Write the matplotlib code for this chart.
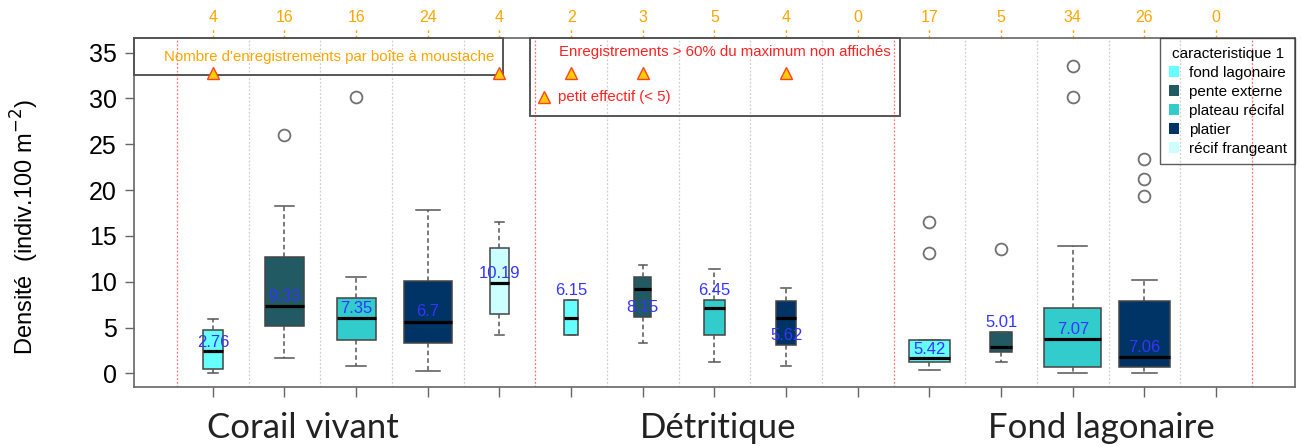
import matplotlib
matplotlib.use('Agg')
import matplotlib.pyplot as plt
import matplotlib.transforms as mtransforms
from matplotlib.patches import Patch, Rectangle
import numpy as np

plt.rcParams['font.family'] = ['Liberation Sans', 'DejaVu Sans']

# ---------------- data ----------------
groups = ['Corail vivant', 'Détritique', 'Fond lagonaire']
caracteristiques = ['fond lagonaire', 'pente externe', 'plateau récifal', 'platier', 'récif frangeant']
colors = ['#66FFFF', '#215A63', '#33CCCC', '#003366', '#CCFFFF']

counts = [4, 16, 16, 24, 4, 2, 3, 5, 4, 0, 17, 5, 34, 26, 0]
whislo = [0.0, 1.64, 0.76, 0.29, 4.15, 4.15, 3.28, 1.2, 0.76, None, 0.36, 1.2, 0.0, 0.0, None]
q1 = [0.47, 5.2, 3.67, 3.27, 6.47, 4.15, 6.15, 4.15, 3.13, None, 1.2, 2.36, 0.72, 0.72, None]
med = [2.40, 7.38, 6.07, 5.63, 9.89, 6.07, 9.17, 7.13, 6.07, None, 1.64, 2.84, 3.71, 1.82, None]
q3 = [4.73, 12.66, 8.22, 10.11, 13.71, 8.0, 10.48, 8.0, 7.93, None, 3.64, 4.54, 7.16, 7.93, None]
whishi = [5.93, 18.27, 10.55, 17.83, 16.48, 8.0, 11.79, 11.35, 9.28, None, 3.64, 4.54, 13.93, 10.19, None]
fliers = [[], [26.0], [30.13], [], [], [], [], [], [], [], [16.48, 13.1], [13.54],
          [33.55, 30.13], [23.36, 21.18, 19.36], []]
mean_labels = ['2.76', '9.33', '7.35', '6.7', '10.19', '6.15', '8.15', '6.45', '5.62', None,
               '5.42', '5.01', '7.07', '7.06', None]
mean_label_y = [3.4, 8.4, 7.1, 6.7, 10.9, 9.0, 7.2, 9.0, 4.1, None, 2.6, 5.6, 4.8, 2.8, None]
group_label_x = [2.26, 8.05, 13.4]

# ---------------- figure ----------------
W, H = 1301, 447
fig = plt.figure(figsize=(W / 100, H / 100), dpi=100)
ax_l, ax_r, ax_t, ax_b = 134, 1295, 38.3, 386.7
ax = fig.add_axes([ax_l / W, 1 - ax_b / H, (ax_r - ax_l) / W, (ax_b - ax_t) / H])
ax.set_xlim(-0.1, 16.1)
ax.set_ylim(-1.46, 36.57)

n_pos = len(counts)
positions = np.arange(1, n_pos + 1)
box_colors = [colors[i % 5] for i in range(n_pos)]
nmax = max(counts)

# vertical separators
for g in range(len(groups) + 1):
    ax.axvline(0.5 + 5 * g, color='#FF7070', ls=(0, (1.5, 1.5)), lw=0.9, zorder=0.5)
for g in range(len(groups)):
    for k in range(1, 5):
        ax.axvline(0.5 + 5 * g + k, color='#CFCFCF', ls=(0, (1.5, 1.5)), lw=0.9, zorder=0.5)

# boxes
stats, pos_b, wid_b, col_b = [], [], [], []
for i in range(n_pos):
    if counts[i] == 0 or med[i] is None:
        continue
    stats.append(dict(med=med[i], q1=q1[i], q3=q3[i], whislo=whislo[i], whishi=whishi[i],
                      fliers=fliers[i]))
    pos_b.append(positions[i])
    wid_b.append(0.8 * np.sqrt(counts[i] / nmax))
    col_b.append(box_colors[i])

bp = ax.bxp(stats, positions=pos_b, widths=wid_b, capwidths=[w / 2 for w in wid_b],
            patch_artist=True, manage_ticks=False,
            boxprops=dict(edgecolor='#444444', linewidth=1.1),
            whiskerprops=dict(color='#555555', linestyle=(0, (3, 2)), linewidth=1.1),
            capprops=dict(color='#555555', linewidth=1.1),
            medianprops=dict(color='black', linewidth=2.3),
            flierprops=dict(marker='o', markerfacecolor='none', markeredgecolor='#707070',
                            markersize=8.5, markeredgewidth=1.3))
for patch, c in zip(bp['boxes'], col_b):
    patch.set_facecolor(c)
for artist_list in bp.values():
    for a in artist_list:
        a.set_zorder(2)

# mean labels
for i in range(n_pos):
    if mean_labels[i] is not None:
        ax.text(positions[i], mean_label_y[i], mean_labels[i], color='#3535FF', fontsize=12,
                ha='center', va='center', zorder=4)

# small sample triangles
small = [positions[i] for i in range(n_pos) if 0 < counts[i] < 5]
ax.plot(small, [32.8] * len(small), ls='none', marker='^', markersize=9,
        markerfacecolor='#FFCC00', markeredgecolor='#FF4422', markeredgewidth=1, zorder=5,
        clip_on=False)

# annotation boxes
ax.add_patch(Rectangle((-0.1, 32.6), 5.15, 36.57 - 32.6, fill=False, edgecolor='#555555',
                       lw=1.4, zorder=3, clip_on=False))
ax.text(2.63, 34.5, "Nombre d'enregistrements par boîte à moustache", color='orange',
        fontsize=10.8, ha='center', va='center', zorder=4)
ax.add_patch(Rectangle((5.42, 28.1), 10.59 - 5.42, 36.57 - 28.1, fill=False,
                       edgecolor='#555555', lw=1.4, zorder=3, clip_on=False))
ax.text(8.15, 35.1, 'Enregistrements > 60% du maximum non affichés', color='#FF2222',
        fontsize=10.8, ha='center', va='center', zorder=4)
ax.plot([5.62], [30.2], ls='none', marker='^', markersize=9, markerfacecolor='#FFCC00',
        markeredgecolor='#FF4422', markeredgewidth=1, zorder=5)
ax.text(5.82, 30.2, 'petit effectif (< 5)', color='#FF2222', fontsize=10.8,
        ha='left', va='center', zorder=4)

# axes styling
for s in ax.spines.values():
    s.set_color('#666666')
    s.set_linewidth(1.2)
ax.set_yticks(np.arange(0, 36, 5))
ax.tick_params(axis='y', length=6.5, width=1, color='#666666', labelsize=18, pad=6)
ax.set_xticks(positions)
ax.set_xticklabels([''] * n_pos)
ax.tick_params(axis='x', length=7.5, width=1, color='#666666')

# top count labels with dashed orange ticks
trans = mtransforms.blended_transform_factory(ax.transData, ax.transAxes)
axh = ax_b - ax_t
for x, n in zip(positions, counts):
    ax.plot([x, x], [1, 1 + 10 / axh], transform=trans, color='orange', ls=(0, (2, 2)),
            lw=1, clip_on=False)
    ax.text(x, 1 + (ax_t - 18) / axh, str(n), transform=trans, color='orange', fontsize=11.5,
            ha='center', va='center')

# group labels
for x, g in zip(group_label_x, groups):
    ax.text(x, -(428 - ax_b) / axh, g, transform=trans, fontsize=25, family='Lato',
            ha='center', va='center', color='#222222')

# y label
fig.text(25 / W, 1 - 227 / H, r'Densité  (indiv.100 m$^{-2}$)', rotation=90, fontsize=17,
         ha='center', va='center')

# legend
handles = [Patch(facecolor=c, edgecolor='none', label=l) for c, l in zip(colors, caracteristiques)]
leg = ax.legend(handles=handles, title='caracteristique 1', loc='upper right', borderaxespad=0,
                fontsize=11, title_fontsize=11, frameon=True, fancybox=False,
                edgecolor='#333333', facecolor='none', framealpha=None, handlelength=0.7,
                handleheight=0.7, handletextpad=0.6, labelspacing=0.33, borderpad=0.55)
leg.get_frame().set_linewidth(1)

fig.savefig('out.png', dpi=100)
